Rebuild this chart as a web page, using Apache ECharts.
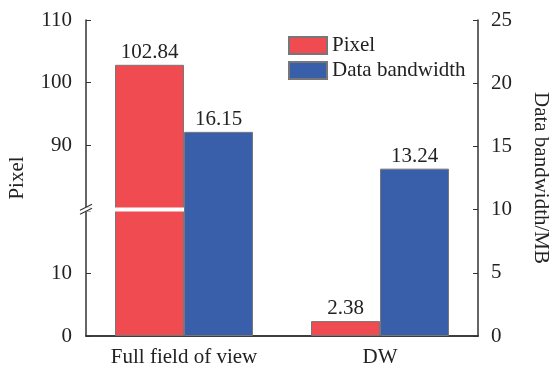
<!DOCTYPE html>
<html><head><meta charset="utf-8">
<script src="https://cdn.jsdelivr.net/npm/echarts@6/dist/echarts.min.js"></script>
<style>html,body{margin:0;padding:0;background:#fff}#c{width:550px;height:370px}</style>
</head><body><div id="c"></div>
<script>
var categories = ['Full field of view', 'DW'];
var pixelValues = [102.84, 2.38];
var bandwidthValues = [16.15, 13.24];
var seriesNames = ['Pixel', 'Data bandwidth'];
var leftAxisName = 'Pixel';
var rightAxisName = 'Data bandwidth/MB';
var leftBreak = [20, 80];

var FONT = 'Liberation Serif';
var FS = 21;
var chart = echarts.init(document.getElementById('c'), null, {renderer: 'canvas'});
var axisLineStyle = {color: '#333', width: 1.5};
var option = {
  animation: false,
  textStyle: {fontFamily: FONT},
  grid: {left: 86, right: 72, top: 20, bottom: 34, outerBoundsMode: 'none', containLabel: false},
  legend: {
    orient: 'vertical', left: 283, top: 30, itemWidth: 38, itemHeight: 17, itemGap: 4,
    icon: 'rect',
    textStyle: {fontFamily: FONT, fontSize: FS, color: '#222'},
    data: seriesNames
  },
  xAxis: [{
    type: 'category', data: categories,
    axisLine: {lineStyle: axisLineStyle}, axisTick: {show: false},
    axisLabel: {fontFamily: FONT, fontSize: FS, color: '#222', margin: 11}
  }, {
    type: 'category', data: categories, position: 'top',
    axisLine: {show: true, lineStyle: axisLineStyle}, axisTick: {show: false}, axisLabel: {show: false}
  }],
  yAxis: [{
    type: 'value', min: 0, max: 110, interval: 10,
    breaks: [{start: leftBreak[0], end: leftBreak[1], gap: '1%'}],
    breakArea: {show: true, itemStyle: {color: '#fff', borderWidth: 0, borderColor: '#fff', opacity: 1}, zigzagAmplitude: 0, expandOnClick: false},
    name: leftAxisName, nameLocation: 'middle', nameGap: 58,
    nameTextStyle: {fontFamily: FONT, fontSize: FS, color: '#222'},
    axisLine: {show: true, lineStyle: axisLineStyle},
    axisTick: {show: true, inside: true, length: 5, lineStyle: {color: '#333'}},
    splitLine: {show: false},
    axisLabel: {fontFamily: FONT, fontSize: FS, color: '#222', margin: 14,
      formatter: function (v) { return (v === leftBreak[0] || v === leftBreak[1]) ? '' : String(v); }}
  }, {
    type: 'value', min: 0, max: 25, interval: 5, position: 'right', z: 400,
    name: rightAxisName, nameLocation: 'middle', nameGap: 52, nameRotate: -90,
    nameTextStyle: {fontFamily: FONT, fontSize: FS, color: '#222'},
    axisLine: {show: true, lineStyle: axisLineStyle},
    axisTick: {show: true, inside: true, length: 5, lineStyle: {color: '#333'}},
    splitLine: {show: false},
    axisLabel: {fontFamily: FONT, fontSize: FS, color: '#222', margin: 13}
  }],
  series: [{
    name: seriesNames[0], type: 'bar', data: pixelValues, yAxisIndex: 0,
    barWidth: 69, barGap: '0%',
    itemStyle: {color: '#EF4B50', borderColor: '#777', borderWidth: 1},
    label: {show: true, position: 'top', distance: 2, fontFamily: FONT, fontSize: FS, color: '#222'}
  }, {
    name: seriesNames[1], type: 'bar', data: bandwidthValues, yAxisIndex: 1, z: 200,
    barWidth: 69, barGap: '0%',
    itemStyle: {color: '#395EAA', borderColor: '#777', borderWidth: 1},
    label: {show: true, position: 'top', distance: 2, fontFamily: FONT, fontSize: FS, color: '#222'}
  }]
};
chart.setOption(option);
// axis-break marker "//" on the left axis, placed through the axis scale
var xAx = chart.convertToPixel({xAxisIndex: 0}, categories[0]) - 98;
var yLo = chart.convertToPixel({yAxisIndex: 0}, leftBreak[0]);
var yHi = chart.convertToPixel({yAxisIndex: 0}, leftBreak[1]);
var yMid = (yLo + yHi) / 2;
chart.setOption({graphic: [
  {type: 'rect', shape: {x: xAx - 6, y: yMid - 2, width: 12, height: 4}, style: {fill: '#fff'}, z: 300},
  {type: 'line', shape: {x1: xAx - 6, y1: yMid + 1, x2: xAx + 6, y2: yMid - 5}, style: {stroke: '#333', lineWidth: 1.2}, z: 301},
  {type: 'line', shape: {x1: xAx - 6, y1: yMid + 5, x2: xAx + 6, y2: yMid - 1}, style: {stroke: '#333', lineWidth: 1.2}, z: 301}
]});
</script></body></html>
